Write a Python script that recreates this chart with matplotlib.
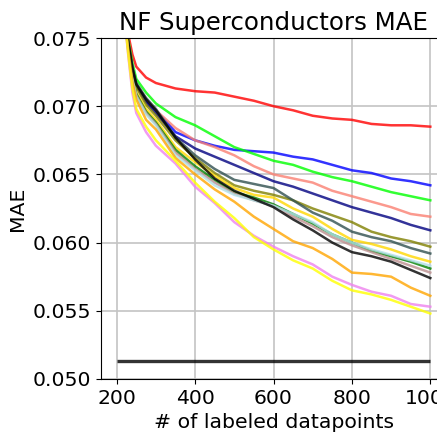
import numpy as np
import matplotlib
matplotlib.use("Agg")
import matplotlib.pyplot as plt

n_labeled = [200, 210, 220, 230, 240, 250, 275, 300, 350, 400, 450, 500, 550,
             600, 650, 700, 750, 800, 850, 900, 950, 1000]

start = [0.092, 0.082, 0.0765]

mae_red = start[:2] + [0.0775, 0.0752, 0.0738, 0.0729, 0.0721, 0.0717,
          0.0713, 0.0711, 0.0710, 0.0707, 0.0704, 0.0700, 0.0697, 0.0693, 0.0691,
          0.0690, 0.0687, 0.0686, 0.0686, 0.0685]
mae_green = start + [0.0748, 0.0732, 0.0720, 0.0710, 0.0702,
            0.0692, 0.0686, 0.0678, 0.0670, 0.0665, 0.0660, 0.0657, 0.0652, 0.0648,
            0.0645, 0.0641, 0.0637, 0.0634, 0.0631]
mae_blue = start + [0.0745, 0.0728, 0.0716, 0.0704, 0.0697,
           0.0681, 0.0675, 0.0671, 0.0668, 0.0667, 0.0666, 0.0663, 0.0661, 0.0657,
           0.0653, 0.0651, 0.0647, 0.0645, 0.0642]
mae_salmon = start + [0.0745, 0.0728, 0.0716, 0.0705, 0.0697,
             0.0684, 0.0675, 0.0670, 0.0664, 0.0656, 0.0650, 0.0647, 0.0644, 0.0638,
             0.0634, 0.0630, 0.0626, 0.0621, 0.0619]
mae_navy = start + [0.0745, 0.0728, 0.0715, 0.0703, 0.0695,
           0.0678, 0.0669, 0.0663, 0.0657, 0.0651, 0.0645, 0.0641, 0.0636, 0.0631,
           0.0626, 0.0622, 0.0618, 0.0613, 0.0609]
mae_slate = start + [0.0746, 0.0729, 0.0717, 0.0706, 0.0698,
            0.0677, 0.0664, 0.0654, 0.0646, 0.0643, 0.0640, 0.0631, 0.0622, 0.0616,
            0.0608, 0.0604, 0.0601, 0.0596, 0.0592]
mae_olive = start + [0.0745, 0.0727, 0.0714, 0.0701, 0.0693,
            0.0675, 0.0662, 0.0651, 0.0642, 0.0638, 0.0635, 0.0631, 0.0625, 0.0620,
            0.0615, 0.0608, 0.0604, 0.0601, 0.0597]
mae_black = start + [0.0746, 0.0728, 0.0716, 0.0705, 0.0697,
            0.0677, 0.0661, 0.0647, 0.0638, 0.0632, 0.0626, 0.0617, 0.0609, 0.0600,
            0.0593, 0.0590, 0.0586, 0.0580, 0.0574]
mae_gold = start + [0.0742, 0.0722, 0.0710, 0.0698, 0.0690,
           0.0670, 0.0659, 0.0649, 0.0640, 0.0635, 0.0633, 0.0625, 0.0619, 0.0610,
           0.0602, 0.0599, 0.0595, 0.0590, 0.0586]
mae_forest = start + [0.0742, 0.0722, 0.0709, 0.0696, 0.0688,
             0.0668, 0.0656, 0.0646, 0.0637, 0.0633, 0.0628, 0.0621, 0.0614, 0.0606,
             0.0600, 0.0594, 0.0590, 0.0586, 0.0581]
mae_rosy = start + [0.0741, 0.0721, 0.0708, 0.0695, 0.0687,
           0.0666, 0.0654, 0.0644, 0.0636, 0.0631, 0.0627, 0.0619, 0.0612, 0.0604,
           0.0598, 0.0593, 0.0588, 0.0583, 0.0578]
mae_lightblue = start + [0.0740, 0.0720, 0.0707, 0.0694, 0.0686,
                0.0664, 0.0653, 0.0642, 0.0635, 0.0631, 0.0627, 0.0621, 0.0615, 0.0606,
                0.0600, 0.0595, 0.0591, 0.0587, 0.0583]
mae_orange = start + [0.0740, 0.0718, 0.0705, 0.0690, 0.0683,
             0.0662, 0.0650, 0.0639, 0.0630, 0.0619, 0.0610, 0.0601, 0.0596, 0.0588,
             0.0578, 0.0577, 0.0575, 0.0567, 0.0561]
mae_yellow = start + [0.0737, 0.0713, 0.0698, 0.0685, 0.0675,
             0.0660, 0.0644, 0.0630, 0.0618, 0.0604, 0.0595, 0.0587, 0.0581, 0.0572,
             0.0565, 0.0562, 0.0558, 0.0553, 0.0548]
mae_violet = start + [0.0736, 0.0710, 0.0695, 0.0681, 0.0671,
             0.0658, 0.0641, 0.0629, 0.0615, 0.0605, 0.0597, 0.0590, 0.0584, 0.0575,
             0.0569, 0.0564, 0.0561, 0.0555, 0.0553]

baseline_mae = 0.0513

series = [
    (mae_red, "red"), (mae_blue, "blue"), (mae_green, "lime"),
    (mae_salmon, "salmon"), (mae_navy, "navy"), (mae_olive, "olive"),
    (mae_slate, "darkslategray"), (mae_gold, "gold"), (mae_forest, "green"),
    (mae_rosy, "rosybrown"), (mae_lightblue, "powderblue"), (mae_black, "black"),
    (mae_orange, "orange"), (mae_violet, "violet"), (mae_yellow, "yellow"),
]

plt.rcParams["font.size"] = 14.7

fig = plt.figure(figsize=(4.37, 4.33), dpi=100)
ax = fig.add_axes([101/437, 1 - 379/433, 345/437, 341/433])

for vals, color in series:
    ax.plot(n_labeled, vals, color=color, lw=1.8, alpha=0.8)

ax.hlines(baseline_mae, n_labeled[0], n_labeled[-1], color="black", lw=2.4, alpha=0.8)

ax.set_xlim(160, 1040)
ax.set_ylim(0.050, 0.075)
ax.set_xticks([200, 400, 600, 800, 1000])
ax.set_yticks([0.050, 0.055, 0.060, 0.065, 0.070, 0.075])
ax.grid(True, color="#c4c4c4", lw=1.2)
ax.set_axisbelow(True)

ax.set_title("NF Superconductors MAE")
ax.set_xlabel("# of labeled datapoints")
ax.set_ylabel("MAE")

fig.savefig("out.png", dpi=100)
